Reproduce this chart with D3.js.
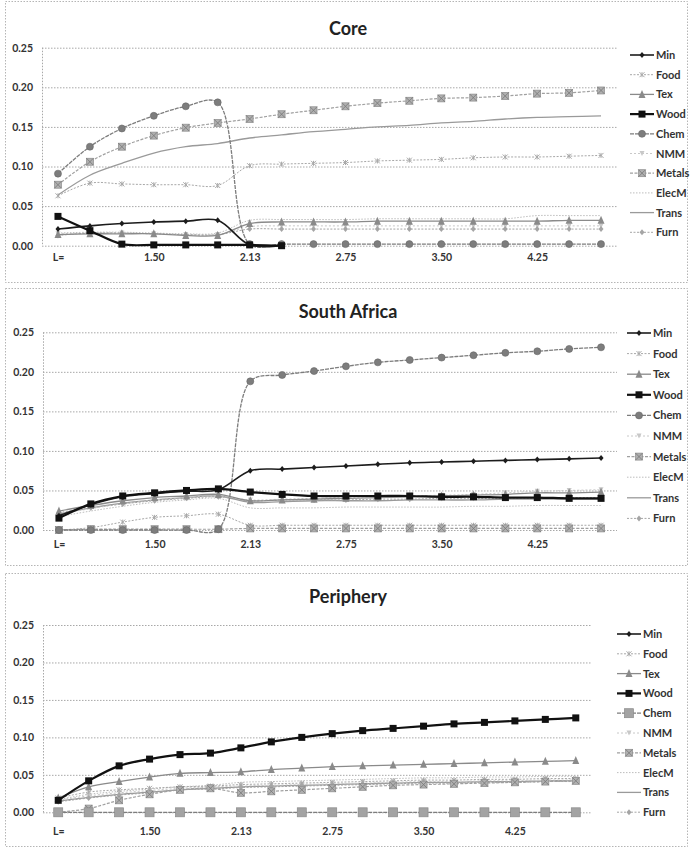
<!DOCTYPE html>
<html><head><meta charset="utf-8">
<script src="https://cdn.jsdelivr.net/npm/d3@7"></script>
<style>
html,body{margin:0;padding:0;background:#fff;}
svg{display:block;font-family:Lato,"Open Sans",sans-serif;}
</style></head>
<body><svg id="chart" width="690" height="849"></svg>
<script>
// ---------- DATA ----------
const categories = ["L=","1.17","1.33","1.50","1.71","1.92","2.13","2.33","2.54","2.75","3.00","3.25","3.50","3.75","4.00","4.25","4.50","4.75"];
const tickLabels = ["L=","1.50","2.13","2.75","3.50","4.25"];
const seriesNames = ["Min","Food","Tex","Wood","Chem","NMM","Metals","ElecM","Trans","Furn"];
const yTicks = [0, 0.05, 0.10, 0.15, 0.20, 0.25];
const panelTitles = ["Core","South Africa","Periphery"];
const N = null;

// Core: one array per series, in seriesNames order
const coreMin    = [0.021,0.025,0.028,0.030,0.031,0.032,0.001,0.000,N,N,N,N,N,N,N,N,N,N];
const coreFood   = [0.063,0.079,0.078,0.077,0.077,0.076,0.101,0.103,0.104,0.105,0.107,0.108,0.109,0.111,0.112,0.112,0.113,0.114];
const coreTex    = [0.014,0.015,0.015,0.015,0.013,0.013,0.028,0.030,0.030,0.030,0.031,0.031,0.031,0.031,0.031,0.031,0.032,0.032];
const coreWood   = [0.037,0.019,0.002,0.001,0.001,0.001,0.001,0.000,N,N,N,N,N,N,N,N,N,N];
const coreChem   = [0.091,0.125,0.148,0.164,0.176,0.181,0.002,0.002,0.002,0.002,0.002,0.002,0.002,0.002,0.002,0.002,0.002,0.002];
const coreNMM    = [0.015,0.016,0.016,0.015,0.014,0.014,0.024,0.025,0.025,0.025,0.025,0.025,0.025,0.025,0.025,0.025,0.025,0.025];
const coreMetals = [0.077,0.106,0.125,0.139,0.149,0.155,0.160,0.166,0.171,0.176,0.180,0.183,0.186,0.187,0.189,0.192,0.193,0.196];
const coreElecM  = [0.016,0.017,0.017,0.016,0.015,0.016,0.032,0.033,0.033,0.033,0.034,0.034,0.034,0.034,0.034,0.038,0.038,0.038];
const coreTrans  = [0.064,0.089,0.104,0.117,0.125,0.129,0.136,0.140,0.144,0.147,0.150,0.152,0.155,0.157,0.160,0.162,0.163,0.164];
const coreFurn   = [0.013,0.016,0.016,0.015,0.014,0.014,0.021,0.021,0.021,0.021,0.021,0.021,0.021,0.021,0.021,0.021,0.021,0.021];

// South Africa
const saMin    = [0.018,0.032,0.042,0.046,0.049,0.051,0.075,0.077,0.079,0.081,0.083,0.085,0.086,0.087,0.088,0.089,0.090,0.091];
const saFood   = [0.000,0.003,0.010,0.016,0.018,0.020,0.006,0.006,0.006,0.006,0.006,0.006,0.006,0.006,0.006,0.006,0.006,0.006];
const saTex    = [0.024,0.031,0.037,0.041,0.043,0.045,0.037,0.038,0.039,0.040,0.041,0.042,0.043,0.044,0.045,0.047,0.047,0.048];
const saWood   = [0.015,0.033,0.043,0.047,0.050,0.052,0.048,0.045,0.043,0.043,0.043,0.043,0.042,0.042,0.041,0.041,0.040,0.040];
const saChem   = [0.000,0.000,0.000,0.000,0.000,0.001,0.188,0.196,0.201,0.207,0.212,0.215,0.218,0.221,0.224,0.226,0.229,0.231];
const saNMM    = [0.020,0.027,0.033,0.038,0.041,0.043,0.038,0.039,0.040,0.041,0.042,0.043,0.044,0.045,0.047,0.049,0.050,0.051];
const saMetals = [0.000,0.001,0.001,0.001,0.001,0.001,0.002,0.002,0.002,0.002,0.002,0.002,0.002,0.002,0.002,0.002,0.002,0.002];
const saElecM  = [0.017,0.024,0.030,0.035,0.038,0.040,0.028,0.028,0.028,0.029,0.029,0.029,0.029,0.030,0.030,0.031,0.031,0.031];
const saTrans  = [0.020,0.028,0.034,0.038,0.041,0.043,0.035,0.036,0.037,0.037,0.037,0.038,0.038,0.038,0.039,0.039,0.039,0.039];
const saFurn   = [0.022,0.028,0.033,0.037,0.040,0.042,0.037,0.038,0.038,0.038,0.039,0.039,0.040,0.040,0.040,0.040,0.041,0.041];

// Periphery
const peMin    = [N,N,N,N,N,N,N,N,N,N,N,N,N,N,N,N,N,N];
const peFood   = [0.019,0.027,0.030,0.032,0.034,0.035,0.037,0.038,0.039,0.040,0.041,0.042,0.043,0.043,0.044,0.044,0.045,0.045];
const peTex    = [0.019,0.034,0.041,0.047,0.052,0.053,0.054,0.057,0.059,0.061,0.062,0.063,0.064,0.065,0.066,0.067,0.068,0.069];
const peWood   = [0.016,0.042,0.062,0.071,0.077,0.079,0.086,0.094,0.100,0.105,0.109,0.112,0.115,0.118,0.120,0.122,0.124,0.126];
const peChem   = [0.000,0.000,0.000,0.000,0.000,0.000,0.000,0.000,0.000,0.000,0.000,0.000,0.000,0.000,0.000,0.000,0.000,0.000];
const peNMM    = [0.016,0.022,0.026,0.029,0.032,0.034,0.035,0.036,0.037,0.038,0.039,0.040,0.041,0.041,0.042,0.042,0.043,0.043];
const peMetals = [0.000,0.005,0.016,0.024,0.030,0.032,0.026,0.028,0.030,0.032,0.034,0.036,0.037,0.038,0.039,0.040,0.041,0.042];
const peElecM  = [0.017,0.024,0.028,0.031,0.034,0.036,0.040,0.041,0.042,0.043,0.044,0.045,0.046,0.046,0.047,0.047,0.048,0.048];
const peTrans  = [0.015,0.020,0.024,0.027,0.030,0.032,0.034,0.035,0.036,0.037,0.038,0.039,0.040,0.040,0.041,0.041,0.042,0.042];
const peFurn   = [0.014,0.019,0.023,0.026,0.030,0.031,0.033,0.034,0.035,0.036,0.037,0.038,0.039,0.039,0.040,0.040,0.041,0.041];

const panelData = [
  [coreMin,coreFood,coreTex,coreWood,coreChem,coreNMM,coreMetals,coreElecM,coreTrans,coreFurn],
  [saMin,saFood,saTex,saWood,saChem,saNMM,saMetals,saElecM,saTrans,saFurn],
  [peMin,peFood,peTex,peWood,peChem,peNMM,peMetals,peElecM,peTrans,peFurn]
];

// ---------- STYLES / LAYOUT ----------
const styles = {
  Min:    {stroke:"#1c1c1c", w:1.6, dash:null,      marker:"diamond",  ms:5,  fill:"#1c1c1c"},
  Food:   {stroke:"#a8a8a8", w:1.0, dash:"2,1.5",   marker:"star",     ms:5,  fill:"#a8a8a8"},
  Tex:    {stroke:"#8a8a8a", w:1.3, dash:null,      marker:"triangle", ms:7,  fill:"#8a8a8a"},
  Wood:   {stroke:"#111111", w:2.2, dash:null,      marker:"square",   ms:7,  fill:"#111111"},
  Chem:   {stroke:"#7d7d7d", w:1.3, dash:"4,1",     marker:"circle",   ms:7,  fill:"#7d7d7d"},
  NMM:    {stroke:"#c8c8c8", w:1.0, dash:"2,2",     marker:"tridown",  ms:5,  fill:"#c8c8c8"},
  Metals: {stroke:"#a0a0a0", w:1.2, dash:"3,1.5",   marker:"xsquare",  ms:7,  fill:"#b0b0b0"},
  ElecM:  {stroke:"#bdbdbd", w:1.0, dash:"1.5,1.5", marker:null,       ms:0,  fill:"none"},
  Trans:  {stroke:"#9a9a9a", w:1.3, dash:null,      marker:null,       ms:0,  fill:"none"},
  Furn:   {stroke:"#a5a5a5", w:1.0, dash:"2,1.5",   marker:"diamond",  ms:5,  fill:"#a5a5a5"}
};

const panels = [
  {box:[5,1,682,281],  title:[348,35],  plot:{l:42,r:617,t:47.7,b:245.7}, legend:{x:630,y:55,dy:19.7}, xlab:262},
  {box:[5,288,682,277],title:[348,318], plot:{l:43,r:617,t:332.3,b:530}, legend:{x:627,y:333,dy:20.6}, xlab:549},
  {box:[5,573,682,273],title:[348,603], plot:{l:43,r:591,t:625,b:812.3}, legend:{x:617,y:634,dy:19.8}, xlab:836, bigChem:true}
];

const svg = d3.select("#chart");

function marker(g, type, x, y, s, st) {
  const h = s/2;
  if (type === "diamond") {
    g.append("path").attr("d",`M${x},${y-h-0.5}L${x+h},${y}L${x},${y+h+0.5}L${x-h},${y}Z`).attr("fill",st.fill);
  } else if (type === "star") {
    g.append("path").attr("d",`M${x-h},${y-h}L${x+h},${y+h}M${x-h},${y+h}L${x+h},${y-h}M${x},${y-h}L${x},${y+h}`)
      .attr("stroke",st.stroke).attr("stroke-width",1).attr("fill","none");
  } else if (type === "triangle") {
    g.append("path").attr("d",`M${x},${y-h-1}L${x+h},${y+h}L${x-h},${y+h}Z`).attr("fill",st.fill);
  } else if (type === "tridown") {
    g.append("path").attr("d",`M${x-h},${y-h}L${x+h},${y-h}L${x},${y+h}Z`).attr("fill",st.fill);
  } else if (type === "square") {
    g.append("rect").attr("x",x-h).attr("y",y-h).attr("width",s).attr("height",s).attr("fill",st.fill);
  } else if (type === "circle") {
    g.append("circle").attr("cx",x).attr("cy",y).attr("r",h).attr("fill",st.fill).attr("stroke","#666").attr("stroke-width",0.6);
  } else if (type === "xsquare") {
    g.append("rect").attr("x",x-h).attr("y",y-h).attr("width",s).attr("height",s).attr("fill",st.fill).attr("stroke","#8c8c8c").attr("stroke-width",0.7);
    g.append("path").attr("d",`M${x-h},${y-h}L${x+h},${y+h}M${x-h},${y+h}L${x+h},${y-h}`).attr("stroke","#777").attr("stroke-width",0.8);
  } else if (type === "bigsquare") {
    g.append("rect").attr("x",x-h).attr("y",y-h).attr("width",s).attr("height",s).attr("fill","#a3a3a3").attr("stroke","#8a8a8a").attr("stroke-width",0.7);
  }
}

panels.forEach((p, pi) => {
  const [bx,by,bw,bh] = p.box;
  svg.append("rect").attr("x",bx+0.5).attr("y",by+0.5).attr("width",bw).attr("height",bh)
    .attr("fill","none").attr("stroke","#b5b5b5").attr("stroke-dasharray","1.5,1.5");

  svg.append("text").attr("x",p.title[0]).attr("y",p.title[1]).attr("text-anchor","middle")
    .attr("font-size",18).attr("font-weight",700).attr("fill","#222").text(panelTitles[pi]);

  const x = d3.scalePoint().domain(categories).range([p.plot.l, p.plot.r]).padding(0.5);
  const y = d3.scaleLinear().domain([0,0.25]).range([p.plot.b, p.plot.t]);
  const w = p.plot.r - p.plot.l;

  // gridlines
  const grid = svg.append("g").attr("transform",`translate(${p.plot.l},0)`)
    .call(d3.axisLeft(y).tickValues(yTicks).tickSize(-w).tickFormat(""));
  grid.select(".domain").remove();
  grid.selectAll("line").attr("stroke","#a8a8a8").attr("stroke-dasharray","1.5,1.5").attr("stroke-width",1);
  svg.append("line").attr("x1",p.plot.l+0.5).attr("x2",p.plot.l+0.5).attr("y1",p.plot.t).attr("y2",p.plot.b)
    .attr("stroke","#a8a8a8").attr("stroke-dasharray","1.5,1.5");

  // y axis labels
  const ya = svg.append("g").attr("transform",`translate(${p.plot.l},0)`)
    .call(d3.axisLeft(y).tickValues(yTicks).tickSize(0).tickPadding(9).tickFormat(d3.format(".2f")));
  ya.select(".domain").remove();
  ya.selectAll("text").attr("font-family","Lato, sans-serif").attr("font-size",10.5).attr("font-weight",700).attr("fill","#333");

  // x axis labels
  const xa = svg.append("g").attr("transform",`translate(0,${p.xlab-8})`)
    .call(d3.axisBottom(x).tickValues(tickLabels).tickSize(0).tickPadding(0));
  xa.select(".domain").remove();
  xa.selectAll("text").attr("font-family","Lato, sans-serif").attr("font-size",10.5).attr("font-weight",700).attr("fill","#333");

  // series
  const line = d3.line().defined(d => d.v !== null).x(d => x(d.c)).y(d => y(d.v)).curve(d3.curveCatmullRom.alpha(0.5));
  const order = [8,7,5,1,9,2,6,4,0,3]; // draw order
  order.forEach(si => {
    const name = seriesNames[si];
    const st = styles[name];
    const vals = panelData[pi][si].map((v,i) => ({c:categories[i], v}));
    const g = svg.append("g");
    g.append("path").attr("d", line(vals)).attr("fill","none").attr("stroke",st.stroke)
      .attr("stroke-width",st.w).attr("stroke-dasharray",st.dash);
    let mk = st.marker, ms = st.ms;
    if (p.bigChem && name === "Chem") { mk = "bigsquare"; ms = 9; }
    if (mk) vals.filter(d => d.v !== null).forEach(d => marker(g, mk, x(d.c), y(d.v), ms, st));
  });

  // legend
  seriesNames.forEach((name, si) => {
    const st = styles[name];
    const ly = p.legend.y + si*p.legend.dy;
    const g = svg.append("g");
    g.append("line").attr("x1",p.legend.x).attr("x2",p.legend.x+24).attr("y1",ly).attr("y2",ly)
      .attr("stroke",st.stroke).attr("stroke-width",st.w).attr("stroke-dasharray",st.dash);
    let mk = st.marker, ms = st.ms;
    if (p.bigChem && name === "Chem") { mk = "bigsquare"; ms = 9; }
    if (mk) marker(g, mk, p.legend.x+12, ly, ms, st);
    g.append("text").attr("x",p.legend.x+26).attr("y",ly+4).attr("font-size",11).attr("font-weight",700)
      .attr("fill","#333").text(name);
  });
});
</script>
</body></html>
